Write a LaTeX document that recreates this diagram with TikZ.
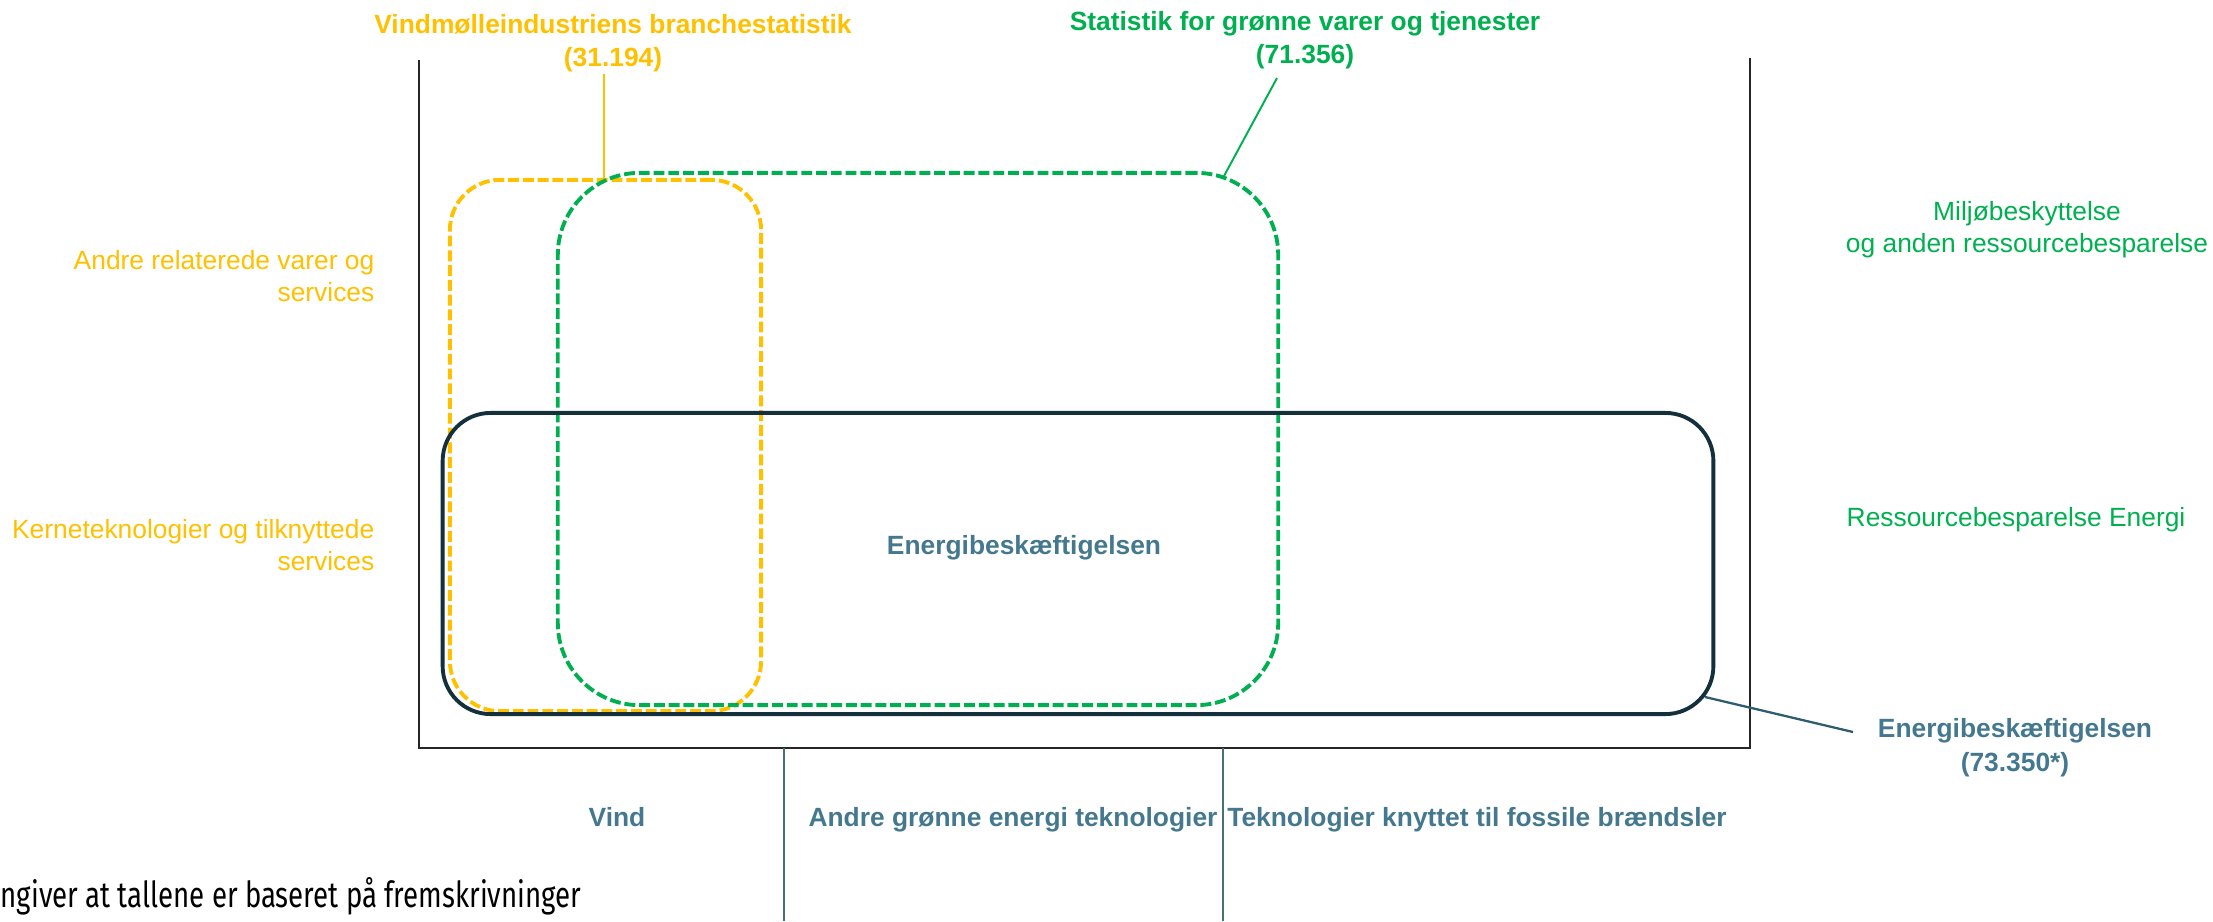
\documentclass[tikz,border=0pt]{standalone}
\usepackage{fontspec}
\setmainfont{Liberation Sans}
\newfontfamily\notefont[FakeStretch=0.77]{Fira Sans}
\usetikzlibrary{positioning}
\definecolor{vindgul}{HTML}{FFC000}
\definecolor{groen}{HTML}{00B050}
\definecolor{energiblaa}{HTML}{44788F}
\definecolor{energimork}{HTML}{15303D}
\definecolor{leaderblaa}{HTML}{2F5D70}
\definecolor{skillelinje}{HTML}{4A7077}
\tikzstyle{titel} = [font=\bfseries\fontsize{7.5pt}{9.6pt}\selectfont,
    align=center, inner sep=0pt, anchor=base]
\tikzstyle{kategori} = [font=\fontsize{7.5pt}{9.1pt}\selectfont,
    inner sep=0pt, anchor=base]
\tikzstyle{stiplet} = [rectangle, line width=1.1pt,
    dash pattern=on 3.1pt off 1.1pt, inner sep=0pt]
\tikzstyle{fuld} = [rectangle, draw=energimork, line width=1.1pt,
    rounded corners=0.48cm, inner sep=0pt]
\tikzstyle{leder} = [draw, line width=0.55pt]

\begin{document}
\begin{tikzpicture}[x=0.01cm, y=-0.01cm]
    \useasboundingbox (0,0) rectangle (2213,921);
    % Frame
    \draw [line width=0.45pt, black!85] (419,60) -- (419,748) -- (1750,748) -- (1750,58);
    \draw [line width=0.5pt, skillelinje] (784,748) -- (784,921);
    \draw [line width=0.5pt, skillelinje] (1223,748) -- (1223,921);
    % Place nodes
    \node [stiplet, draw=vindgul, rounded corners=0.5cm,
        minimum width=3.11cm, minimum height=5.31cm] (vindboks) at (605.5,445.5) {};
    \node [stiplet, draw=groen, rounded corners=0.82cm,
        minimum width=7.2cm, minimum height=5.32cm] (groenboks) at (918,439) {};
    \node [fuld, minimum width=12.7cm, minimum height=3.01cm] (energiboks) at (1078,563.5) {};
    \node [titel, text=energiblaa] (energitekst) at (1024,554) {Energibeskæftigelsen};

    \node [titel, text=vindgul] (vindtitel) at (613,67)
        {Vindmølleindustriens branchestatistik\\(31.194)};
    \node [titel, text=groen] (groentitel) at (1305,64)
        {Statistik for grønne varer og tjenester\\(71.356)};
    \node [titel, text=energiblaa] (energititel) at (2015,771)
        {Energibeskæftigelsen\\(73.350*)};

    \node [kategori, text=vindgul, align=right, anchor=base east] (andre) at (375,301)
        {Andre relaterede varer og\\services};
    \node [kategori, text=vindgul, align=right, anchor=base east] (kerne) at (375,570)
        {Kerneteknologier og tilknyttede\\services};
    \node [kategori, text=groen, align=center] (miljoe) at (2027,252)
        {Miljøbeskyttelse\\og anden ressourcebesparelse};
    \node [kategori, text=groen, anchor=base west] (ressource) at (1846,526)
        {Ressourcebesparelse Energi};

    \node [titel, text=energiblaa] (vind) at (617,826) {Vind};
    \node [titel, text=energiblaa] (groenteknologi) at (1013,826) {Andre grønne energi teknologier};
    \node [titel, text=energiblaa] (fossil) at (1477,826) {Teknologier knyttet til fossile brændsler};

    \node [anchor=base west, inner sep=0pt, font=\notefont\fontsize{10.2pt}{12pt}\selectfont]
        (note) at (0,907) {ngiver at tallene er baseret på fremskrivninger};
    % Draw edges
    \coordinate (vindtop) at (604,74);
    \coordinate (groentop) at (1277,78);
    \coordinate (groenhjorne) at (1224,176);
    \coordinate (energihjorne) at (1705,697);
    \coordinate (energiende) at (1853,732);
    \path [leder, vindgul] (vindtop) -- (vindtop |- vindboks.north);
    \path [leder, groen] (groentop) -- (groenhjorne);
    \path [leder, leaderblaa, line width=0.65pt] (energihjorne) -- (energiende);
\end{tikzpicture}
\end{document}
